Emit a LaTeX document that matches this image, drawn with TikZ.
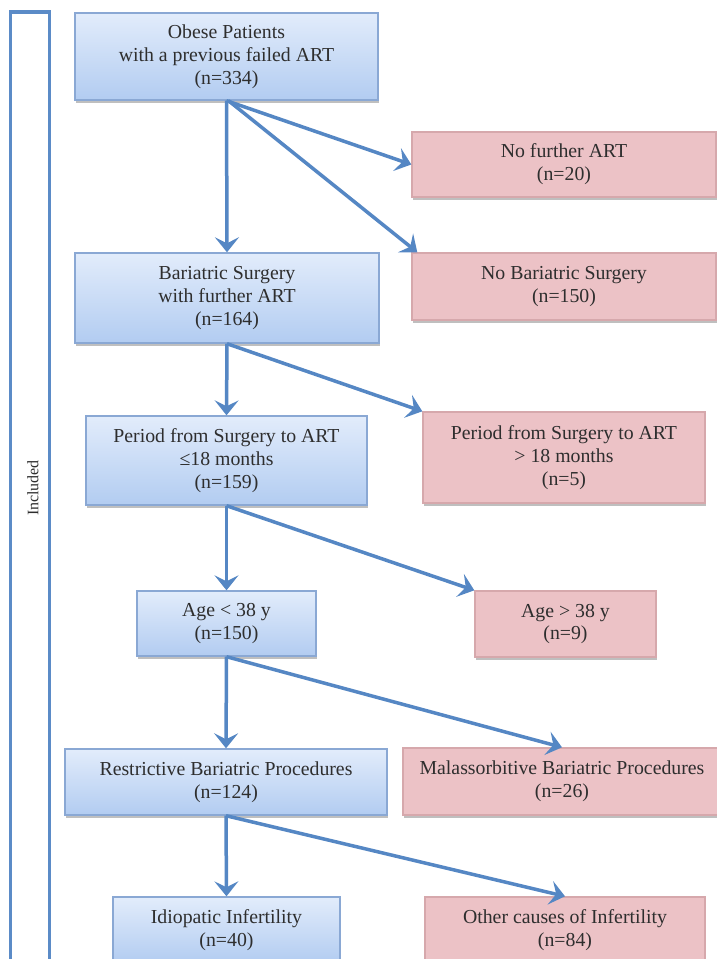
\documentclass[tikz,border=0pt]{standalone}
\usepackage{fontspec}
\setmainfont{Liberation Serif}
\usetikzlibrary{arrows.meta,shadows,calc}
\definecolor{blueline}{HTML}{8AA8D4}
\definecolor{bluetop}{HTML}{E2ECFB}
\definecolor{bluebot}{HTML}{B2CCF1}
\definecolor{redline}{HTML}{D6A8AC}
\definecolor{redfill}{HTML}{ECC2C6}
\definecolor{arrowblue}{HTML}{5587C4}
\definecolor{barblue}{HTML}{5B8BC7}
\definecolor{txt}{HTML}{2E2E2E}
\newcommand{\boxfont}{\fontsize{19.8}{22.8}\selectfont}
\tikzset{
  basebox/.style={line width=1.4pt, align=center, inner sep=0pt, text=txt, font=\boxfont,
    drop shadow={shadow xshift=1pt, shadow yshift=-2.5pt, opacity=0.25, fill=black}},
  bluebox/.style={basebox, draw=blueline, top color=bluetop, bottom color=bluebot},
  redbox/.style={basebox, draw=redline, fill=redfill},
  flowarrow/.style={draw=arrowblue, line width=3.5pt, -{Stealth[length=15pt,width=24pt,inset=6pt]}},
}
\begin{document}
\begin{tikzpicture}[x=1pt,y=-1pt]
\path[use as bounding box, clip] (0,0) rectangle (717,959);
\fill[white] (0,0) rectangle (717,959);
% Included bar
\draw[barblue, line width=3.5pt] (10.5,12) rectangle (49.5,990);
\node[rotate=90, text=txt, font=\fontsize{16}{19}\selectfont] (incl) at (33,488) {Included};
% blue boxes
\node[bluebox, minimum width=303pt, minimum height=87pt] (b1) at (226.5,56.5)
  {Obese Patients\\with a previous failed ART\\(n=334)};
\node[bluebox, minimum width=304pt, minimum height=90pt] (b2) at (227,298)
  {Bariatric Surgery\\with further ART\\(n=164)};
\node[bluebox, minimum width=281pt, minimum height=89pt] (b3) at (226.5,460.5)
  {Period from Surgery to ART\\≤18 months\\(n=159)};
\node[bluebox, minimum width=179pt, minimum height=65pt] (b4) at (226.5,623.5)
  {Age < 38 y\\(n=150)};
\node[bluebox, minimum width=322pt, minimum height=66pt] (b5) at (226,782)
  {Restrictive Bariatric Procedures\\(n=124)};
\node[bluebox, minimum width=227pt, minimum height=66pt] (b6) at (226.5,930)
  {Idiopatic Infertility\\(n=40)};
% red boxes
\node[redbox, minimum width=304pt, minimum height=65pt] (r1) at (564,164.5)
  {No further ART\\(n=20)};
\node[redbox, minimum width=304pt, minimum height=67pt] (r2) at (564,286.5)
  {No Bariatric Surgery\\(n=150)};
\node[redbox, minimum width=282pt, minimum height=91pt] (r3) at (564,457.5)
  {Period from Surgery to ART\\> 18 months\\(n=5)};
\node[redbox, minimum width=181pt, minimum height=66pt] (r4) at (565.5,624)
  {Age > 38 y\\(n=9)};
\node[redbox, minimum width=318pt, minimum height=67pt] (r5) at (562,781.5)
  {Malassorbitive Bariatric Procedures\\(n=26)};
\node[redbox, minimum width=280pt, minimum height=66pt] (r6) at (565,930)
  {Other causes of Infertility\\(n=84)};
% arrows
\draw[flowarrow] (b1.south) -- (b2.north);
\draw[flowarrow] (b1.south) -- (r1.west);
\draw[flowarrow] ($(b1.south)+(2,0)$) -- ($(r2.north west)+(6,0)$);
\draw[flowarrow] (b2.south) -- (b3.north);
\draw[flowarrow] (b2.south) -- (r3.north west);
\draw[flowarrow] (b3.south) -- (b4.north);
\draw[flowarrow] (b3.south) -- (r4.north west);
\draw[flowarrow] (b4.south) -- (b5.north);
\draw[flowarrow] (b4.south) -- (r5.north);
\draw[flowarrow] (b5.south) -- (b6.north);
\draw[flowarrow] (b5.south) -- (r6.north);
\end{tikzpicture}
\end{document}
